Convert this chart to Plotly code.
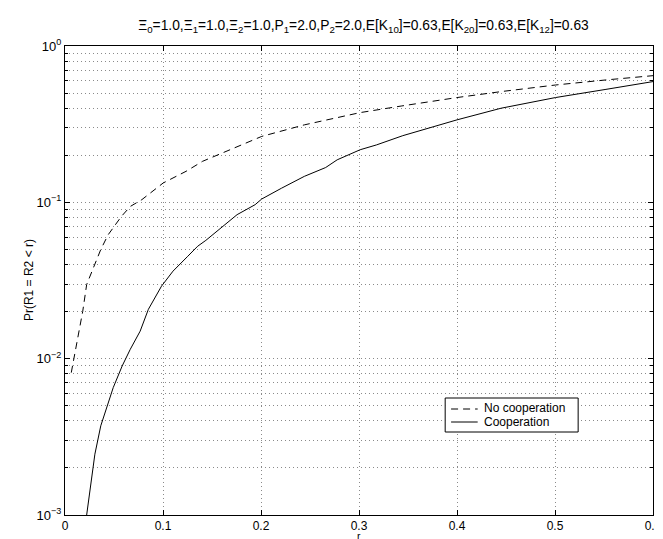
import plotly.graph_objects as go

# Data
r_nocoop = [0.0064, 0.0088, 0.0131, 0.0181, 0.0221, 0.0305, 0.0365, 0.0440, 0.0575,
            0.0667, 0.0784, 0.1002, 0.1236, 0.1404, 0.1772, 0.2007, 0.2442, 0.3012,
            0.3430, 0.4000, 0.4452, 0.5005, 0.5525, 0.6000]
p_nocoop = [0.00814, 0.0099, 0.0133, 0.0201, 0.0298, 0.0400, 0.0499, 0.0620, 0.0812,
            0.0942, 0.104, 0.133, 0.158, 0.183, 0.228, 0.264, 0.313, 0.375,
            0.413, 0.468, 0.511, 0.563, 0.607, 0.646]

r_coop = [0.0221, 0.0264, 0.0305, 0.0365, 0.0432, 0.0492, 0.0583, 0.0666, 0.0767,
          0.0851, 0.0985, 0.1102, 0.1253, 0.1354, 0.1437, 0.1571, 0.1756, 0.1940,
          0.2007, 0.2208, 0.2442, 0.2660, 0.2777, 0.3012, 0.3179, 0.3447, 0.4000,
          0.4450, 0.5005, 0.5520, 0.6000]
p_coop = [0.00100, 0.00162, 0.00245, 0.00372, 0.00499, 0.00653, 0.00897, 0.01148, 0.0150,
          0.0207, 0.0291, 0.0363, 0.0452, 0.0524, 0.0571, 0.067, 0.0834, 0.0966,
          0.105, 0.123, 0.1466, 0.167, 0.187, 0.217, 0.233, 0.267, 0.337,
          0.400, 0.468, 0.528, 0.592]

series_names = ["No cooperation", "Cooperation"]
x_ticks = [0, 0.1, 0.2, 0.3, 0.4, 0.5, 0.6]
x_ticklabels = ["0", "0.1", "0.2", "0.3", "0.4", "0.5", "0.6"]
y_ticks = [0.001, 0.01, 0.1, 1]
y_ticklabels = ["10<sup>−3</sup>", "10<sup>−2</sup>", "10<sup>−1</sup>", "10<sup>0</sup>"]
y_minor = [m * 10 ** e for e in (-3, -2, -1) for m in range(2, 10)]

title_text = ("Ξ<sub>0</sub>=1.0,Ξ<sub>1</sub>=1.0,Ξ<sub>2</sub>=1.0,P<sub>1</sub>=2.0,"
              "P<sub>2</sub>=2.0,E[K<sub>10</sub>]=0.63,E[K<sub>20</sub>]=0.63,E[K<sub>12</sub>]=0.63")

FONT = "Liberation Sans, Arial, Helvetica, sans-serif"
DASH = "7px,5px"

fig = go.Figure()
fig.add_trace(go.Scatter(x=r_nocoop, y=p_nocoop, mode="lines", name=series_names[0],
                         line=dict(color="black", width=1, dash=DASH)))
fig.add_trace(go.Scatter(x=r_coop, y=p_coop, mode="lines", name=series_names[1],
                         line=dict(color="black", width=1)))

W, H = 663, 539
ml, mr, mt, mb = 57, 9, 38, 32
pw, ph = W - ml - mr, H - mt - mb


def px(x):
    return (x - ml) / pw


def py(y):
    return (H - mb - y) / ph


fig.update_layout(
    width=W, height=H,
    margin=dict(l=ml, r=mr, t=mt, b=mb, pad=0),
    paper_bgcolor="white", plot_bgcolor="white",
    font=dict(family=FONT, size=12, color="black"),
    showlegend=False,
    title=dict(text=title_text, x=(ml + pw / 2) / W, xanchor="center",
               y=1 - 17 / H, yanchor="middle",
               font=dict(family=FONT, size=13.8, color="black")),
)

GRID = dict(showgrid=True, gridcolor="#8a8a8a", griddash="1px,3px", gridwidth=1)

fig.update_xaxes(
    range=[0, 0.6], tickvals=x_ticks, ticktext=x_ticklabels,
    showline=True, linecolor="black", linewidth=1, mirror="ticks",
    ticks="inside", ticklen=5, tickcolor="black",
    zeroline=False, tickfont=dict(size=12), **GRID,
)
fig.update_yaxes(
    type="log", range=[-3, 0], tickvals=y_ticks, ticktext=y_ticklabels,
    showline=True, linecolor="black", linewidth=1, mirror="ticks",
    ticks="inside", ticklen=5, tickcolor="black",
    zeroline=False, tickfont=dict(size=13), **GRID,
    minor=dict(tickvals=y_minor, ticks="inside", ticklen=3, tickcolor="black", **GRID),
)

# axis titles
fig.add_annotation(text="r", xref="paper", yref="paper", x=0.5, y=py(528),
                   xanchor="center", yanchor="middle", showarrow=False,
                   font=dict(family=FONT, size=10.5, color="black"))
fig.add_annotation(text="Pr(R1 = R2 < r)", xref="paper", yref="paper",
                   x=px(20), y=0.5, xanchor="center", yanchor="middle",
                   textangle=-90, showarrow=False,
                   font=dict(family=FONT, size=12, color="black"))

# legend box (MATLAB style)
fig.add_shape(type="rect", xref="paper", yref="paper",
              x0=px(443), x1=px(578), y0=py(424), y1=py(390),
              line=dict(color="black", width=1), fillcolor="white", layer="above")
fig.add_shape(type="line", xref="paper", yref="paper",
              x0=px(449), x1=px(476), y0=py(401), y1=py(401),
              line=dict(color="black", width=1, dash=DASH), layer="above")
fig.add_shape(type="line", xref="paper", yref="paper",
              x0=px(449), x1=px(476), y0=py(414), y1=py(414),
              line=dict(color="black", width=1), layer="above")
for name, yy in zip(series_names, (400, 414)):
    fig.add_annotation(text=name, xref="paper", yref="paper", x=px(480), y=py(yy),
                       xanchor="left", yanchor="middle", showarrow=False,
                       font=dict(family=FONT, size=12, color="black"))

fig.write_html("out.html")
